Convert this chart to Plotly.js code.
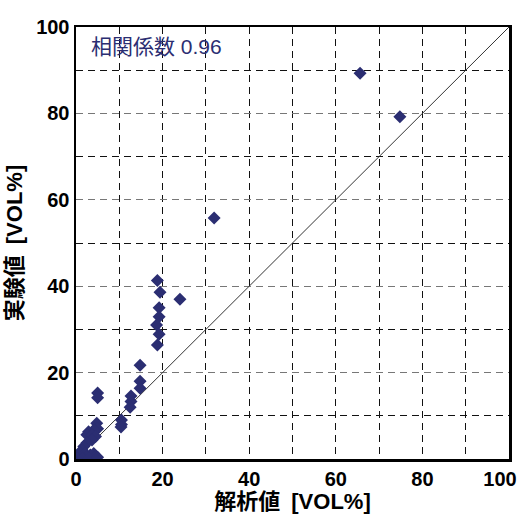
<!DOCTYPE html>
<html>
<head>
<meta charset="utf-8">
<script src="https://cdn.plot.ly/plotly-3.0.1.min.js"></script>
<style>html,body{margin:0;padding:0;background:#fff;}#chart{width:523px;height:517px;}</style>
</head>
<body>
<div id="chart"></div>
<script>
// 解析値 (analysis) vs 実験値 (experiment), VOL%
const analysisValues = [65.6, 74.8, 31.9, 24.0,
  18.8, 19.4, 19.2, 19.2, 18.6, 19.2, 18.8,
  14.8, 14.8, 14.8, 12.7, 12.7, 12.5,
  10.5, 10.5, 10.4,
  5.0, 5.0, 4.8, 5.0, 4.1, 2.9, 2.5, 3.7, 4.5, 3.7, 2.5,
  1.8, 1.4, 1.0, 0.6, 2.1, 3.3, 4.1, 2.5, 4.5, 0.3, 1.5, 3.0, 5.0];
const experimentValues = [89.3, 79.2, 55.8, 37.0,
  41.3, 38.6, 35.0, 32.9, 31.0, 28.9, 26.4,
  21.7, 18.0, 16.4, 14.6, 13.3, 12.0,
  9.0, 8.0, 7.4,
  15.3, 14.2, 8.3, 7.0, 6.7, 6.3, 5.6, 5.6, 5.2, 4.4, 3.7,
  2.9, 2.1, 1.4, 0.5, 1.3, 0.9, 1.3, 0.5, 0.5, 0.2, 0.2, 0.1, 0.4];
const diagonal = [0, 100];
const xTickValues = [0, 20, 40, 60, 80];
const xTickLabels = ['0', '20', '40', '60', '80'];
const xEndTickValues = [100];
const xEndTickLabels = ['100'];
const yTickValues = [0, 20, 40, 60, 80, 100];
const yTickLabels = ['0', '20', '40', '60', '80', '100'];
const xTitle = '解析値\u2002[VOL%]';
const yTitle = '実験値\u2002[VOL%]';
const noteText = '相関係数 0.96';

const navy = '#2b2e72';
const numFont = 'Liberation Sans, Arial, Noto Sans CJK JP, sans-serif';
const tickFont = {family: numFont, size: 20, color: '#000', weight: 'bold'};

const traces = [
  {x: diagonal, y: diagonal, mode: 'lines', line: {color: '#333', width: 1}, hoverinfo: 'skip'},
  {x: analysisValues, y: experimentValues, mode: 'markers', type: 'scatter',
   marker: {symbol: 'diamond', size: 10, color: navy}},
  {x: [], y: [], xaxis: 'x2', yaxis: 'y', mode: 'markers', hoverinfo: 'skip'}
];

const axisCommon = {
  range: [0, 100], tickmode: 'array',
  showline: true, mirror: true, ticklabeloverflow: 'allow',
  linecolor: '#000', linewidth: 2.5, ticks: '', zeroline: false,
  tickfont: tickFont,
  griddash: '7px,5px', gridwidth: 1,
  minor: {dtick: 10, tick0: 0, showgrid: true, gridcolor: '#111', griddash: '7px,5px', gridwidth: 1}
};

const layout = {
  width: 523, height: 517,
  margin: {l: 76, r: 14, t: 27, b: 58},
  showlegend: false,
  paper_bgcolor: '#fff', plot_bgcolor: '#fff',
  xaxis: Object.assign({}, axisCommon, {
    tickvals: xTickValues, ticktext: xTickLabels,
    gridcolor: '#111',
    title: {text: xTitle, standoff: 2, font: {family: numFont, size: 22, color: '#000', weight: 'bold'}}
  }),
  xaxis2: {
    overlaying: 'x', side: 'bottom', matches: 'x', range: [0, 100],
    tickmode: 'array', tickvals: xEndTickValues, ticktext: xEndTickLabels,
    showgrid: false, zeroline: false, ticks: '',
    showline: true, linecolor: '#000', linewidth: 2.5,
    ticklabelshift: -9, ticklabeloverflow: 'allow', tickfont: tickFont
  },
  yaxis: Object.assign({}, axisCommon, {
    tickvals: yTickValues, ticktext: yTickLabels,
    gridcolor: '#777',
    title: {text: yTitle, standoff: 8, font: {family: numFont, size: 22, color: '#000', weight: 'bold'}}
  }),
  annotations: [{
    text: noteText, xref: 'paper', yref: 'paper', x: 0.03, y: 0.985,
    xanchor: 'left', yanchor: 'top', showarrow: false,
    font: {family: numFont, size: 21, color: navy}
  }]
};

Plotly.newPlot('chart', traces, layout, {displayModeBar: false, staticPlot: true});
</script>
</body>
</html>
